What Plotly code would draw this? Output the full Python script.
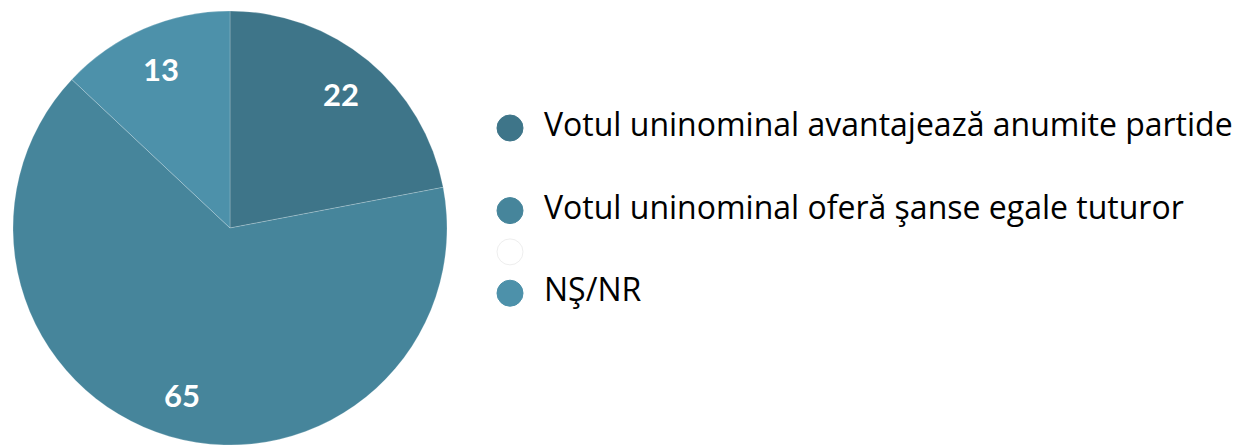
import math
import plotly.graph_objects as go

# ---- data ----
categories = [
    "Votul uninominal avantajează anumite partide",
    "",
    "Votul uninominal oferă şanse egale tuturor",
    " ",
    "NŞ/NR",
]
values = [22, 0, 65, 0, 13]
colors = ["#3e7589", "rgba(0,0,0,0)", "#46859b", "#ffffff", "#4d91aa"]
marker_lines = ["#3e7589", "rgba(0,0,0,0)", "#46859b", "#eeeeee", "#4d91aa"]

# page body has an 8px margin; size the figure to fill the 1245x445 window
W, H = 1237, 437
LABEL_FONT = "Lato"
LEGEND_FONT = "Open Sans"

pie_labels = [c for c, v in zip(categories, values) if v > 0]
pie_values = [v for v in values if v > 0]
pie_colors = [c for c, v in zip(colors, values) if v > 0]

# pie domain (figure pixels)
px0, px1 = 4, 440
py_top, py_bot = 3, 437
dom_x = [px0 / W, px1 / W]
dom_y = [1 - py_bot / H, 1 - py_top / H]
cx = (px0 + px1) / 2
cy = (py_top + py_bot) / 2
R = min(px1 - px0, py_bot - py_top) / 2

fig = go.Figure()
fig.add_trace(go.Pie(
    labels=pie_labels,
    values=pie_values,
    marker=dict(colors=pie_colors, line=dict(color="rgba(255,255,255,0.35)", width=0.6)),
    sort=False,
    direction="clockwise",
    rotation=0,
    textinfo="none",
    domain=dict(x=dom_x, y=dom_y),
    showlegend=False,
    hoverinfo="label+value",
))

# value labels at 80% of the radius along each slice's mid-angle
total = sum(pie_values)
acc = 0.0
for v in pie_values:
    mid = (acc + v / 2) / total * 2 * math.pi
    acc += v
    lx = cx + 0.8 * R * math.sin(mid)
    ly = cy - 0.8 * R * math.cos(mid)
    fig.add_annotation(
        x=lx / W, y=1 - ly / H, xref="paper", yref="paper",
        text=str(v), showarrow=False, xanchor="center", yanchor="middle",
        font=dict(family=LABEL_FONT, size=31, color="white", weight="bold"),
    )

# ---- custom legend (row index -> vertical position) ----
rows = list(range(len(categories)))
fig.add_trace(go.Scatter(
    x=[502] * len(rows), y=rows, mode="markers",
    marker=dict(size=26, color=colors, line=dict(color=marker_lines, width=1)),
    showlegend=False, hoverinfo="skip",
))
fig.add_trace(go.Scatter(
    x=[536] * len(rows), y=rows, mode="text", text=categories,
    textposition="middle right",
    textfont=dict(family=LEGEND_FONT, size=32, color="#000000"),
    showlegend=False, hoverinfo="skip",
))

row_px = 41.3
first_px = 120
fig.update_layout(
    width=W, height=H,
    margin=dict(l=0, r=0, t=0, b=0),
    paper_bgcolor="white", plot_bgcolor="rgba(0,0,0,0)",
    xaxis=dict(range=[0, W], domain=[0, 1], visible=False, fixedrange=True),
    yaxis=dict(range=[(H - first_px) / row_px, -first_px / row_px], domain=[0, 1],
               visible=False, fixedrange=True),
)

fig.write_html("out.html")
